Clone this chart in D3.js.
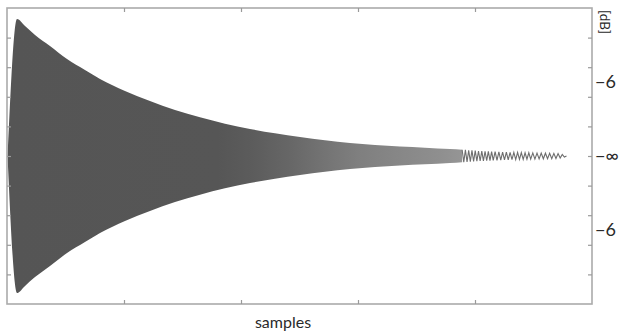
<!DOCTYPE html>
<html>
<head>
<meta charset="utf-8">
<script src="https://cdn.jsdelivr.net/npm/d3@7"></script>
<style>
  html, body { margin: 0; padding: 0; background: #fff; }
  svg { display: block; }
  text { font-family: Lato, "Open Sans", sans-serif; fill: #2a2a2a; }
</style>
</head>
<body>
<svg id="chart" width="623" height="333"></svg>
<script>
// ---------- data ----------
// envelope of the decaying waveform: sample position and peak amplitude (linear, full scale = 1)
const envSamples = [0.9, 17.1, 30.8, 47.9, 73.5, 102.6, 133.3, 159.0, 201.7, 244.4, 287.2, 329.9,
                    372.6, 415.4, 458.1, 500.9, 543.6, 586.3, 629.1, 671.8, 714.5, 757.3, 778];
const envAmps    = [0, 0.926, 0.878, 0.818, 0.743, 0.655, 0.581, 0.520, 0.439, 0.372, 0.311, 0.261,
                    0.218, 0.183, 0.153, 0.128, 0.106, 0.088, 0.075, 0.064, 0.056, 0.047, 0.042];

// individual cycles visible in the tail: peak sample positions and signed values
const tailSamples = [778.0, 780.8, 783.6, 786.4, 789.2, 792.0, 794.8, 797.6, 800.4, 803.2,
                     806.0, 808.8, 811.6, 814.4, 817.2, 820.0, 822.8, 825.6, 828.4, 831.2,
                     834.4, 837.6, 840.8, 844.0, 847.2, 850.4, 853.6, 856.8, 860.0, 863.2,
                     866.4, 869.6, 872.8, 876.0, 879.2, 882.4, 885.6, 888.8, 892.0, 895.2,
                     898.8, 902.4, 906.0, 909.6, 913.2, 916.8, 920.4, 924.0, 927.6, 931.2,
                     934.8, 938.4, 942.0, 945.6, 949.2, 952.8, 956.4];
const tailValues  = [0.042, -0.041, 0.041, -0.040, 0.039, -0.038, 0.038, -0.037, 0.036, -0.035,
                     0.034, -0.034, 0.033, -0.033, 0.032, -0.032, 0.031, -0.031, 0.030, -0.030,
                     0.029, -0.029, 0.028, -0.028, 0.027, -0.027, 0.026, -0.026, 0.025, -0.025,
                     0.024, -0.024, 0.024, -0.023, 0.023, -0.023, 0.022, -0.022, 0.022, -0.021,
                     0.021, -0.021, 0.020, -0.020, 0.020, -0.019, 0.019, -0.019, 0.018, -0.018,
                     0.0175, -0.017, 0.016, -0.014, 0.011, -0.007, 0];

const xTicks = [200, 400, 600, 800];
const yTicks = [-0.8, -0.6, -0.4, -0.2, 0, 0.2, 0.4, 0.6, 0.8];
const dbTickValues = [0.5, 0, -0.5];
const dbTickLabels = ["\u22126", "\u2212\u221E", "\u22126"];
const dbUnit = "[dB]";
const xTitle = "samples";

// ---------- drawing ----------
const svg = d3.select("#chart");
const pL = 7, pR = 592, pT = 8, pB = 304;

const x = d3.scaleLinear().domain([0, 1000]).range([pL, pR]);
const y = d3.scaleLinear().domain([-1, 1]).range([pB, pT]);

// gradient for the dense part (moiré gets lighter toward the right)
const defs = svg.append("defs");
const grad = defs.append("linearGradient")
  .attr("id", "wave").attr("gradientUnits", "userSpaceOnUse")
  .attr("x1", pL).attr("x2", pR).attr("y1", 0).attr("y2", 0);
[[0, "#555"], [0.36, "#565656"], [0.42, "#5c5c5c"], [0.48, "#666"], [0.54, "#737373"],
 [0.6, "#7f7f7f"], [0.68, "#888"], [0.74, "#8f8f8f"], [0.79, "#979797"], [1, "#a5a5a5"]]
  .forEach(([o, c]) => grad.append("stop").attr("offset", o).attr("stop-color", c));

const env = envSamples.map((s, i) => ({ s, a: envAmps[i] }));
const area = d3.area()
  .x(d => x(d.s))
  .y0(d => y(-d.a))
  .y1(d => y(d.a))
  .curve(d3.curveMonotoneX);

svg.append("path")
  .datum(env)
  .attr("d", area)
  .attr("fill", "url(#wave)");

const tail = tailSamples.map((s, i) => ({ s, v: tailValues[i] }));
svg.append("path")
  .datum(tail)
  .attr("d", d3.line().x(d => x(d.s)).y(d => y(d.v)))
  .attr("fill", "none")
  .attr("stroke", "#6e6e6e")
  .attr("stroke-width", 1.1);

// frame
svg.append("rect")
  .attr("x", pL).attr("y", pT)
  .attr("width", pR - pL).attr("height", pB - pT)
  .attr("fill", "none").attr("stroke", "#ababab").attr("stroke-width", 1.6);

function styleAxis(g) {
  g.select(".domain").remove();
  g.selectAll(".tick line").attr("stroke", "#9a9a9a").attr("stroke-width", 1.2);
}

svg.append("g").attr("transform", `translate(0,${pB})`)
  .call(d3.axisBottom(x).tickValues(xTicks).tickSizeInner(-4).tickSizeOuter(0).tickFormat(""))
  .call(styleAxis);
svg.append("g").attr("transform", `translate(0,${pT})`)
  .call(d3.axisTop(x).tickValues(xTicks).tickSizeInner(-4).tickSizeOuter(0).tickFormat(""))
  .call(styleAxis);
svg.append("g").attr("transform", `translate(${pL},0)`)
  .call(d3.axisLeft(y).tickValues(yTicks).tickSizeInner(-4).tickSizeOuter(0).tickFormat(""))
  .call(styleAxis);
svg.append("g").attr("transform", `translate(${pR},0)`)
  .call(d3.axisRight(y).tickValues(yTicks).tickSizeInner(-4).tickSizeOuter(0).tickFormat(""))
  .call(styleAxis);

// dB labels on the right
const dbAxis = svg.append("g").attr("transform", `translate(${pR},0)`)
  .call(d3.axisRight(y).tickValues(dbTickValues).tickSize(0).tickPadding(3)
        .tickFormat((d, i) => dbTickLabels[i]));
dbAxis.select(".domain").remove();
dbAxis.selectAll("text")
  .style("font-family", "Lato, 'Open Sans', sans-serif")
  .style("font-size", "18px").attr("fill", "#2a2a2a");

svg.append("text")
  .attr("transform", `translate(600,22) rotate(90)`)
  .attr("text-anchor", "middle")
  .style("font-size", "13.5px")
  .text(dbUnit);

svg.append("text")
  .attr("x", 283).attr("y", 328)
  .attr("text-anchor", "middle")
  .style("font-size", "16px")
  .text(xTitle);
</script>
</body>
</html>
